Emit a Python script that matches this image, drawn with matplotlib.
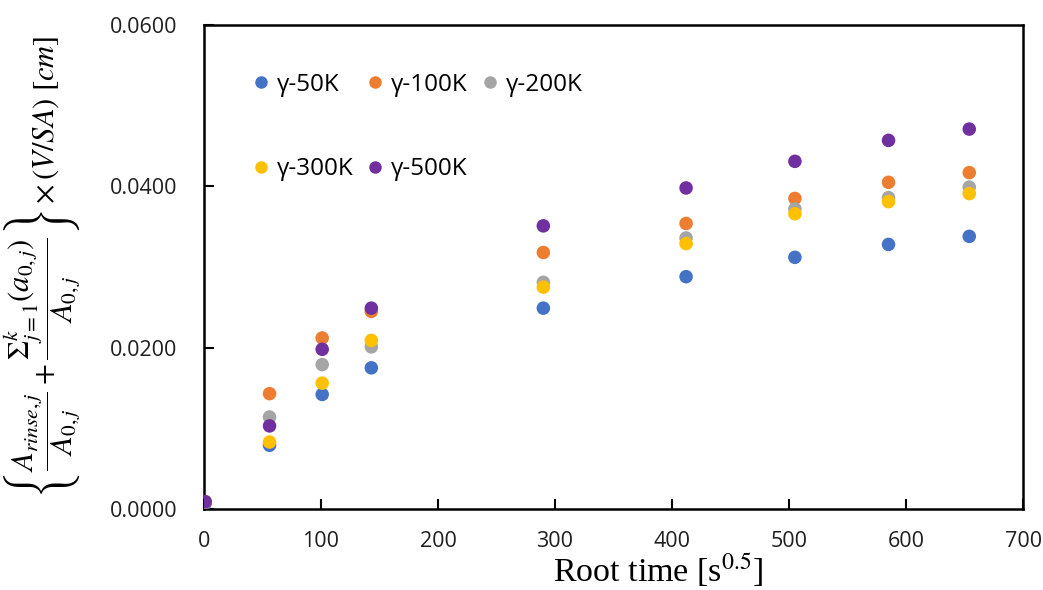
import numpy as np
import matplotlib.pyplot as plt
from matplotlib.ticker import FormatStrFormatter
from matplotlib.lines import Line2D

# root time [s^0.5] for each sampling point
root_time = [1, 56, 101, 143, 290, 412, 505, 585, 654]

labels = ["γ-50K", "γ-100K", "γ-200K", "γ-300K", "γ-500K"]
colors = ["#4472C4", "#ED7D31", "#A5A5A5", "#FFC000", "#7030A0"]

y_50k = [0.0007, 0.0079, 0.0142, 0.0175, 0.0249, 0.0288, 0.0312, 0.0328, 0.0338]
y_100k = [0.0009, 0.0143, 0.0212, 0.0245, 0.0318, 0.0354, 0.0385, 0.0405, 0.0417]
y_200k = [0.0009, 0.0114, 0.0179, 0.0201, 0.0281, 0.0336, 0.0372, 0.0386, 0.0399]
y_300k = [0.0009, 0.0083, 0.0156, 0.0209, 0.0275, 0.0329, 0.0366, 0.0381, 0.0391]
y_500k = [0.0009, 0.0103, 0.0198, 0.0249, 0.0351, 0.0398, 0.0431, 0.0457, 0.0471]
series = [y_50k, y_100k, y_200k, y_300k, y_500k]

plt.rcParams['font.family'] = ['Open Sans', 'DejaVu Sans']
plt.rcParams['mathtext.fontset'] = 'stix'

fig = plt.figure(figsize=(10.43, 5.90), dpi=100)
ax = fig.add_axes([0.1956, 0.1373, 0.7853, 0.8203])

for ys, c in zip(series, colors):
    ax.scatter(root_time, ys, s=95, color=c, edgecolors='none', zorder=3)

ax.set_xlim(0, 700)
ax.set_ylim(0, 0.06)
ax.set_xticks(np.arange(0, 701, 100))
ax.set_yticks([0, 0.02, 0.04, 0.06])
ax.yaxis.set_major_formatter(FormatStrFormatter('%.4f'))
ax.tick_params(direction='in', length=7, width=1.5, labelsize=15.5,
               labelcolor='#1f1f1f', top=False, right=False)
ax.tick_params(axis='x', pad=16)
ax.tick_params(axis='y', pad=19)
for sp in ax.spines.values():
    sp.set_linewidth(1.8)

ax.set_xlabel(r"Root time [s$^{0.5}$]", family='Liberation Serif',
              fontsize=24.5)
ax.xaxis.set_label_coords(0.555, -0.088)
ax.set_ylabel(r"$\left\{\dfrac{A_{rinse,j}}{A_{0,j}}+\dfrac{\Sigma_{j=1}^{k}(a_{0,j})}{A_{0,j}}\right\}\times(V/SA)\ [cm]$",
              fontsize=22)
ax.yaxis.set_label_coords(-0.148, 0.5)

# legend rows: 50K 100K 200K / 300K 500K (matplotlib fills column-wise)
order = [0, 3, 1, 4, 2]
handles = [Line2D([], [], marker='o', ls='none', markersize=9,
                  markerfacecolor=colors[i], markeredgecolor='none') for i in order]
ax.legend(handles, [labels[i] for i in order], ncol=3, frameon=False,
          loc='upper left', bbox_to_anchor=(0.034, 0.947), fontsize=17.5,
          handlelength=0.6, handletextpad=0.35, columnspacing=0.6,
          labelspacing=2.5)

fig.savefig("out.png", dpi=100)
